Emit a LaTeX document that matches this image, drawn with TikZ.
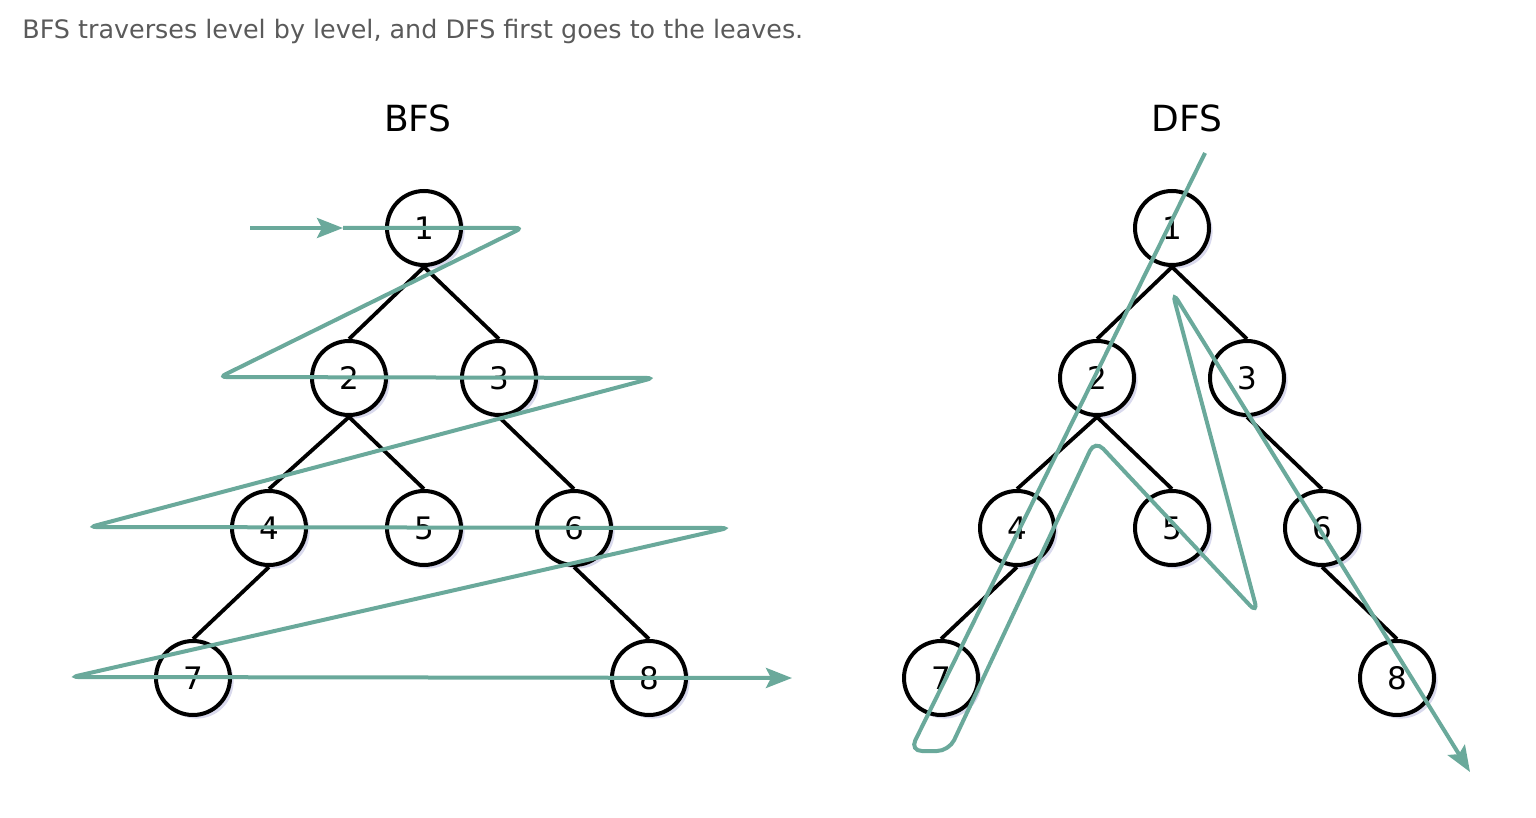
\documentclass[tikz,border=0pt]{standalone}
\usepackage{fontspec}
\setmainfont{DejaVu Sans}
\newfontfamily\handfont{DejaVu Sans}
\usetikzlibrary{arrows.meta}
\usetikzlibrary{shadows}
\definecolor{walkTeal}{HTML}{6AA99B}
\definecolor{capGray}{HTML}{5A5A5A}

\begin{document}
\begin{tikzpicture}[x=0.5pt, y=-0.5pt,
    vertex/.style={draw, circle, line width=2pt, fill=white, minimum size=37pt, inner sep=0pt,
      font=\handfont\fontsize{15.5}{15.5}\selectfont,
      drop shadow={shadow xshift=1.8pt, shadow yshift=-1.8pt, fill=blue!35!gray, opacity=0.22}},
    branch/.style={line width=1.9pt},
    walk/.style={draw=walkTeal, line width=2pt, rounded corners=3pt},
    tip/.style={-{Stealth[length=13pt, width=10pt, inset=2.5pt]}}]
  \useasboundingbox (0,0) rectangle (1536,818);

  \node[anchor=base west, inner sep=0pt, text=capGray, font=\fontsize{12.7}{15}\selectfont] (caption) at (22,39)
    {BFS traverses level by level, and DFS first goes to the leaves.};

  \node[font=\handfont\fontsize{18}{18}\selectfont] (bfsTitle) at (418,118) {BFS};
  \node[font=\handfont\fontsize{18}{18}\selectfont] (dfsTitle) at (1187,118) {DFS};

  % the same tree twice: b for BFS, d for DFS
  \foreach \t/\cx in {b/424, d/1172} {
    \foreach \n/\dx/\y in {1/0/228, 2/-75/378, 3/75/378, 4/-155/528, 5/0/528, 6/150/528, 7/-231/678, 8/225/678}
      \node[vertex] (\t\n) at (\cx+\dx,\y) {\n};
    \foreach \p/\c in {1/2, 1/3, 2/4, 2/5, 3/6, 4/7, 6/8}
      \draw[branch] (\t\p.south) -- (\t\c.north);
  }

  % BFS walk
  \coordinate (bStart) at (250,228);
  \coordinate (bEnter) at (343,228);
  \coordinate (bEnd) at (792,678);
  \draw[walk, tip] (bStart) -- (bEnter);
  \draw[walk, tip] (bEnter) -- (522,228) -- (220,377) -- (653,378) -- (90,527)
    -- (728,528) -- (72,677) -- (bEnd);

  % DFS walk
  \coordinate (dStart) at (1205,153);
  \coordinate (dEnd) at (1470,772);
  \draw[walk, tip, rounded corners=6pt] (dStart) -- (910,751) -- (949,751) -- (1095,440) -- (1258,614)
    -- (1172,291) -- (dEnd);
\end{tikzpicture}
\end{document}
